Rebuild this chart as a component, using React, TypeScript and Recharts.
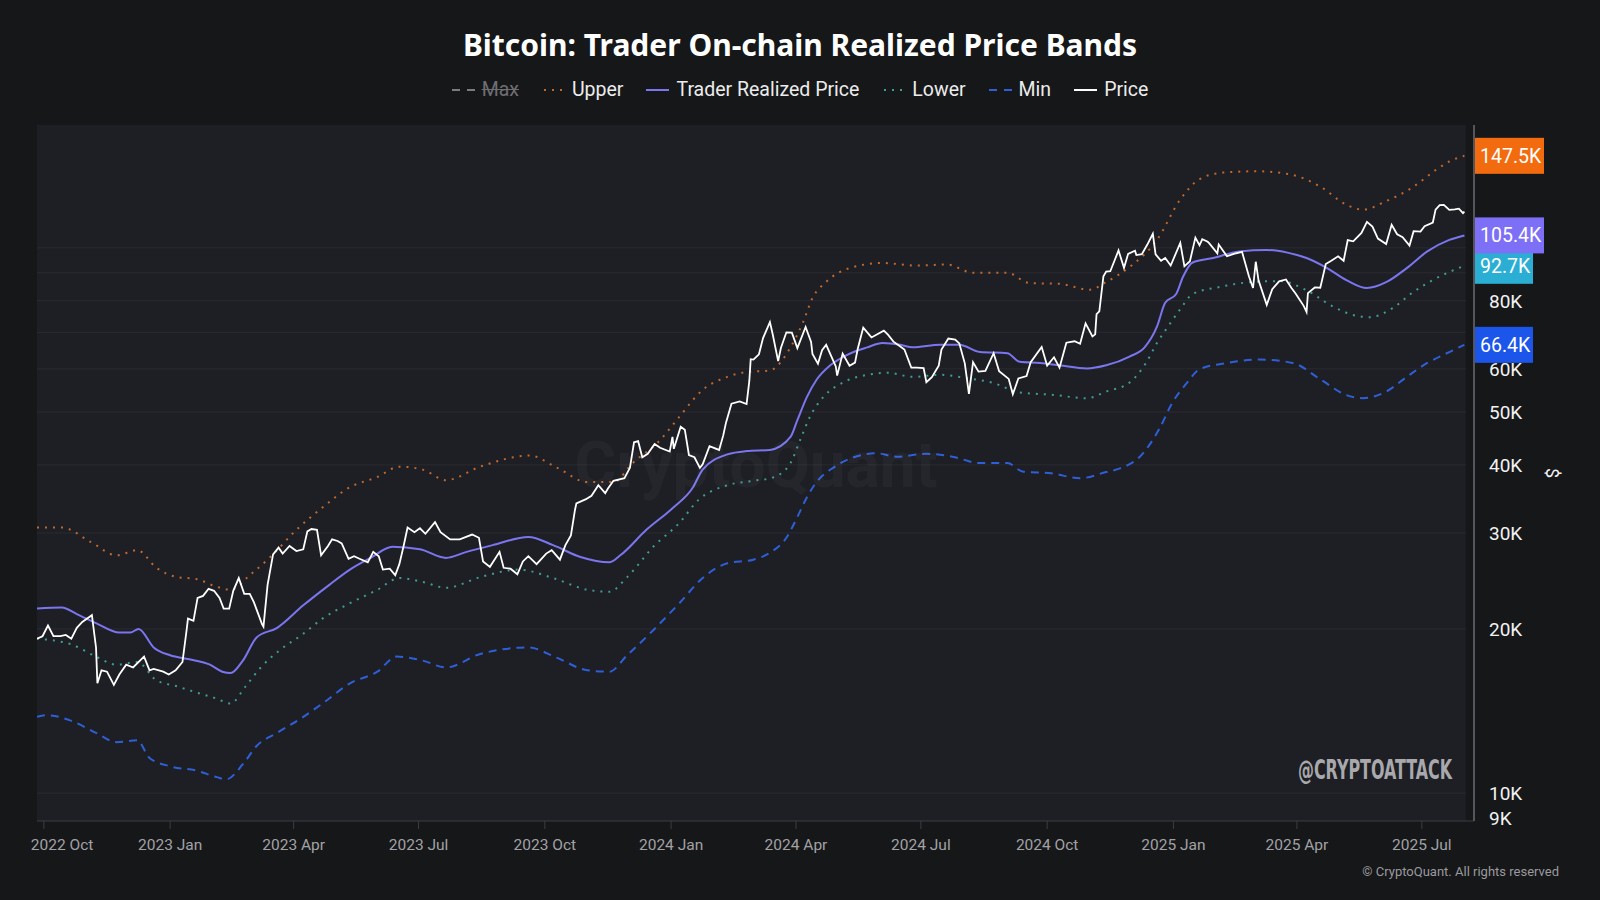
import React from 'react';
import { ComposedChart, Line, XAxis, YAxis, CartesianGrid, Legend, ReferenceArea, ReferenceLine } from 'recharts';

type Pt = [string, number];

// values in thousands of USD
const upperBand: Pt[] = [
  ['2022-09-26', 30.7], ['2022-10-14', 30.7], ['2022-11-04', 28.9], ['2022-11-23', 27.3], ['2022-12-08', 27.9],
  ['2022-12-22', 25.9], ['2023-01-06', 24.9], ['2023-01-20', 24.7], ['2023-02-04', 23.9], ['2023-02-14', 23.6],
  ['2023-02-28', 25.1], ['2023-03-15', 27.1], ['2023-04-03', 30.4], ['2023-04-22', 33.4], ['2023-05-12', 36.4],
  ['2023-06-01', 38.0], ['2023-06-17', 39.7], ['2023-07-04', 39.2], ['2023-07-21', 37.5], ['2023-08-15', 39.7],
  ['2023-09-20', 41.6], ['2023-10-10', 39.5], ['2023-11-01', 37.2], ['2023-11-20', 37.2], ['2023-12-04', 40.3],
  ['2023-12-24', 44.4], ['2024-01-07', 49.0], ['2024-01-24', 54.9], ['2024-02-11', 58.0], ['2024-02-25', 59.2],
  ['2024-03-13', 59.6], ['2024-03-28', 65.7], ['2024-04-06', 72.9], ['2024-04-13', 80.9], ['2024-04-23', 86.6],
  ['2024-05-10', 91.8], ['2024-06-03', 93.8], ['2024-06-28', 92.8], ['2024-07-20', 93.2], ['2024-08-08', 90.0],
  ['2024-09-02', 90.0], ['2024-09-18', 86.2], ['2024-10-10', 85.9], ['2024-11-01', 83.8], ['2024-11-13', 86.6],
  ['2024-11-30', 92.2], ['2024-12-20', 103.4], ['2025-01-06', 122.7], ['2025-01-20', 133.6], ['2025-02-06', 137.4],
  ['2025-03-03', 138.2], ['2025-03-29', 136.0], ['2025-04-18', 129.5], ['2025-05-07', 120.0], ['2025-05-19', 117.5],
  ['2025-06-05', 121.8], ['2025-06-24', 129.0], ['2025-07-12', 139.4], ['2025-07-21', 144.0], ['2025-08-01', 147.5],
];

const traderRealized: Pt[] = [
  ['2022-09-26', 21.8], ['2022-10-14', 21.9], ['2022-10-25', 21.3], ['2022-11-08', 20.5], ['2022-11-25', 19.7],
  ['2022-12-03', 19.7], ['2022-12-09', 20.0], ['2022-12-20', 18.5], ['2023-01-01', 17.9], ['2023-01-15', 17.6],
  ['2023-01-30', 17.2], ['2023-02-08', 16.7], ['2023-02-14', 16.6], ['2023-02-23', 17.5], ['2023-03-05', 19.3],
  ['2023-03-20', 20.1], ['2023-04-08', 22.1], ['2023-04-27', 24.1], ['2023-05-12', 25.7], ['2023-05-27', 27.0],
  ['2023-06-12', 28.3], ['2023-07-02', 28.0], ['2023-07-21', 27.0], ['2023-08-05', 27.7], ['2023-08-24', 28.5],
  ['2023-09-19', 29.5], ['2023-10-07', 28.5], ['2023-10-27', 27.1], ['2023-11-17', 26.5], ['2023-11-25', 27.3],
  ['2023-12-14', 30.4], ['2024-01-02', 33.3], ['2024-01-17', 36.4], ['2024-01-24', 39.2], ['2024-02-11', 41.8],
  ['2024-02-25', 42.4], ['2024-03-13', 42.6], ['2024-03-28', 45.0], ['2024-04-02', 48.3], ['2024-04-09', 53.3],
  ['2024-04-16', 57.3], ['2024-04-26', 60.9], ['2024-05-08', 63.6], ['2024-05-23', 65.7], ['2024-06-03', 66.9],
  ['2024-06-16', 66.4], ['2024-06-25', 65.7], ['2024-07-15', 66.4], ['2024-07-29', 66.4], ['2024-08-13', 64.4],
  ['2024-09-02', 64.1], ['2024-09-11', 61.8], ['2024-09-26', 61.5], ['2024-10-10', 60.9], ['2024-10-30', 60.1],
  ['2024-11-13', 60.9], ['2024-11-30', 63.2], ['2024-12-11', 65.7], ['2024-12-20', 71.7], ['2024-12-26', 79.3],
  ['2025-01-03', 82.3], ['2025-01-08', 88.5], ['2025-01-15', 94.0], ['2025-01-30', 95.8], ['2025-02-18', 98.5],
  ['2025-03-10', 99.1], ['2025-03-25', 98.0], ['2025-04-08', 95.8], ['2025-04-23', 91.8], ['2025-05-07', 87.3],
  ['2025-05-22', 84.4], ['2025-06-05', 86.5], ['2025-06-20', 91.8], ['2025-07-05', 98.5], ['2025-07-21', 103.4],
  ['2025-08-01', 105.4],
];

const lowerBand: Pt[] = [
  ['2022-09-26', 19.2], ['2022-10-22', 18.7], ['2022-11-08', 17.8], ['2022-11-23', 17.2], ['2022-12-08', 17.4],
  ['2022-12-22', 16.1], ['2023-01-06', 15.7], ['2023-01-20', 15.3], ['2023-02-04', 14.9], ['2023-02-14', 14.6],
  ['2023-02-25', 15.7], ['2023-03-08', 17.0], ['2023-03-22', 18.3], ['2023-04-08', 19.6], ['2023-04-22', 20.9],
  ['2023-05-12', 22.3], ['2023-06-01', 23.6], ['2023-06-17', 24.8], ['2023-07-04', 24.4], ['2023-07-21', 23.8],
  ['2023-08-15', 24.9], ['2023-09-12', 25.7], ['2023-10-07', 24.8], ['2023-11-01', 23.6], ['2023-11-17', 23.4],
  ['2023-11-30', 24.9], ['2023-12-19', 28.3], ['2024-01-07', 31.3], ['2024-01-21', 34.5], ['2024-02-11', 36.7],
  ['2024-03-01', 37.4], ['2024-03-15', 37.9], ['2024-03-28', 40.3], ['2024-04-04', 44.4], ['2024-04-11', 48.9],
  ['2024-04-21', 53.3], ['2024-05-05', 56.6], ['2024-05-23', 58.5], ['2024-06-07', 59.0], ['2024-06-25', 58.0],
  ['2024-07-15', 58.5], ['2024-08-03', 57.7], ['2024-08-22', 56.6], ['2024-09-11', 54.3], ['2024-10-04', 53.8],
  ['2024-10-30', 53.0], ['2024-11-13', 54.5], ['2024-11-30', 56.6], ['2024-12-12', 61.5], ['2024-12-20', 66.9],
  ['2024-12-28', 71.7], ['2025-01-06', 77.2], ['2025-01-15', 82.3], ['2025-02-04', 84.8], ['2025-02-28', 86.6],
  ['2025-03-20', 86.9], ['2025-04-08', 83.6], ['2025-04-27', 78.1], ['2025-05-15', 75.0], ['2025-05-24', 74.6],
  ['2025-06-10', 77.6], ['2025-06-24', 82.7], ['2025-07-09', 87.3], ['2025-07-21', 90.3], ['2025-08-01', 92.7],
];

const minBand: Pt[] = [
  ['2022-09-26', 13.8], ['2022-10-03', 13.9], ['2022-10-20', 13.6], ['2022-11-08', 12.9], ['2022-11-23', 12.4],
  ['2022-12-08', 12.5], ['2022-12-17', 11.6], ['2023-01-01', 11.2], ['2023-01-20', 11.0], ['2023-02-04', 10.7],
  ['2023-02-11', 10.6], ['2023-02-23', 11.3], ['2023-03-05', 12.2], ['2023-03-20', 12.9], ['2023-04-08', 13.8],
  ['2023-04-22', 14.6], ['2023-05-12', 15.9], ['2023-06-01', 16.7], ['2023-06-15', 17.8], ['2023-07-04', 17.5],
  ['2023-07-21', 17.0], ['2023-08-15', 18.0], ['2023-09-19', 18.5], ['2023-10-10', 17.7], ['2023-11-01', 16.8],
  ['2023-11-17', 16.7], ['2023-11-30', 17.9], ['2023-12-19', 19.9], ['2024-01-07', 22.3], ['2024-01-24', 24.8],
  ['2024-02-11', 26.4], ['2024-03-01', 26.8], ['2024-03-13', 27.6], ['2024-03-25', 29.4], ['2024-04-02', 32.1],
  ['2024-04-09', 34.9], ['2024-04-16', 37.2], ['2024-04-28', 39.5], ['2024-05-12', 41.2], ['2024-05-30', 42.0],
  ['2024-06-13', 41.4], ['2024-07-05', 41.9], ['2024-07-24', 41.4], ['2024-08-13', 40.3], ['2024-09-02', 40.3],
  ['2024-09-13', 38.9], ['2024-10-04', 38.6], ['2024-10-25', 37.8], ['2024-11-13', 38.8], ['2024-11-23', 39.4],
  ['2024-12-08', 41.5], ['2024-12-22', 46.7], ['2024-12-31', 51.9], ['2025-01-11', 56.6], ['2025-01-20', 59.9],
  ['2025-02-09', 61.5], ['2025-03-05', 62.4], ['2025-03-29', 61.5], ['2025-04-18', 57.4], ['2025-05-07', 53.7],
  ['2025-05-19', 53.0], ['2025-06-05', 54.5], ['2025-06-20', 58.0], ['2025-07-05', 61.5], ['2025-07-21', 64.4],
  ['2025-08-01', 66.4],
];

const btcPrice: Pt[] = [
  ['2022-09-26', 19.2], ['2022-09-30', 19.4], ['2022-10-04', 20.3], ['2022-10-08', 19.4], ['2022-10-13', 19.4],
  ['2022-10-17', 19.5], ['2022-10-21', 19.2], ['2022-10-25', 20.1], ['2022-10-29', 20.6], ['2022-11-05', 21.2],
  ['2022-11-08', 18.5], ['2022-11-09', 15.9], ['2022-11-12', 16.8], ['2022-11-16', 16.7], ['2022-11-21', 15.8],
  ['2022-11-25', 16.5], ['2022-11-30', 17.2], ['2022-12-05', 17.0], ['2022-12-13', 17.8], ['2022-12-17', 16.8],
  ['2022-12-20', 16.9], ['2022-12-27', 16.7], ['2022-12-31', 16.5], ['2023-01-05', 16.8], ['2023-01-10', 17.4],
  ['2023-01-13', 19.9], ['2023-01-14', 20.9], ['2023-01-18', 20.7], ['2023-01-21', 22.8], ['2023-01-25', 23.0],
  ['2023-01-29', 23.7], ['2023-02-02', 23.5], ['2023-02-06', 22.8], ['2023-02-09', 21.8], ['2023-02-13', 21.8],
  ['2023-02-16', 23.5], ['2023-02-20', 24.8], ['2023-02-24', 23.2], ['2023-02-28', 23.2], ['2023-03-03', 22.4],
  ['2023-03-09', 20.4], ['2023-03-10', 20.2], ['2023-03-13', 24.1], ['2023-03-17', 27.4], ['2023-03-21', 28.2],
  ['2023-03-24', 27.5], ['2023-03-29', 28.4], ['2023-04-03', 27.8], ['2023-04-08', 28.0], ['2023-04-11', 30.2],
  ['2023-04-14', 30.5], ['2023-04-18', 30.4], ['2023-04-21', 27.3], ['2023-04-26', 28.4], ['2023-04-29', 29.2],
  ['2023-05-03', 29.0], ['2023-05-06', 28.7], ['2023-05-11', 26.9], ['2023-05-15', 27.2], ['2023-05-19', 26.9],
  ['2023-05-25', 26.5], ['2023-05-29', 27.7], ['2023-06-02', 27.2], ['2023-06-05', 25.7], ['2023-06-10', 25.8],
  ['2023-06-14', 25.1], ['2023-06-17', 26.3], ['2023-06-20', 28.3], ['2023-06-23', 30.7], ['2023-06-28', 30.1],
  ['2023-07-02', 30.6], ['2023-07-06', 29.9], ['2023-07-13', 31.4], ['2023-07-17', 30.1], ['2023-07-24', 29.2],
  ['2023-07-31', 29.2], ['2023-08-09', 29.8], ['2023-08-14', 29.4], ['2023-08-17', 26.6], ['2023-08-22', 26.0],
  ['2023-08-29', 27.7], ['2023-09-01', 25.9], ['2023-09-06', 25.8], ['2023-09-11', 25.2], ['2023-09-15', 26.6],
  ['2023-09-19', 27.2], ['2023-09-25', 26.3], ['2023-10-02', 27.5], ['2023-10-06', 27.9], ['2023-10-12', 26.8],
  ['2023-10-16', 28.5], ['2023-10-20', 29.7], ['2023-10-23', 33.1], ['2023-10-24', 34.0], ['2023-10-31', 34.6],
  ['2023-11-04', 35.1], ['2023-11-09', 36.7], ['2023-11-14', 35.5], ['2023-11-16', 36.2], ['2023-11-20', 37.4],
  ['2023-11-28', 37.8], ['2023-12-02', 39.5], ['2023-12-05', 44.0], ['2023-12-08', 44.2], ['2023-12-11', 41.3],
  ['2023-12-15', 41.9], ['2023-12-20', 43.7], ['2023-12-24', 43.0], ['2023-12-31', 42.3], ['2024-01-02', 45.0],
  ['2024-01-03', 42.8], ['2024-01-08', 47.0], ['2024-01-11', 46.4], ['2024-01-14', 41.7], ['2024-01-18', 41.3],
  ['2024-01-22', 39.5], ['2024-01-24', 40.1], ['2024-01-29', 43.3], ['2024-02-05', 42.6], ['2024-02-08', 45.3],
  ['2024-02-10', 47.8], ['2024-02-14', 51.8], ['2024-02-20', 52.3], ['2024-02-25', 51.7], ['2024-02-27', 57.0],
  ['2024-02-28', 62.5], ['2024-03-01', 62.4], ['2024-03-05', 63.8], ['2024-03-08', 68.3], ['2024-03-13', 73.1],
  ['2024-03-15', 69.5], ['2024-03-19', 62.0], ['2024-03-21', 65.5], ['2024-03-25', 70.0], ['2024-03-29', 69.9],
  ['2024-04-02', 65.5], ['2024-04-08', 71.6], ['2024-04-12', 67.2], ['2024-04-13', 63.9], ['2024-04-17', 61.3],
  ['2024-04-20', 64.9], ['2024-04-23', 66.4], ['2024-04-30', 60.6], ['2024-05-01', 58.3], ['2024-05-05', 64.0],
  ['2024-05-10', 60.8], ['2024-05-14', 61.6], ['2024-05-16', 65.3], ['2024-05-20', 71.4], ['2024-05-26', 68.5],
  ['2024-06-04', 70.5], ['2024-06-07', 69.3], ['2024-06-11', 67.3], ['2024-06-15', 66.2], ['2024-06-19', 65.1],
  ['2024-06-24', 60.3], ['2024-06-28', 60.3], ['2024-07-03', 60.2], ['2024-07-05', 56.7], ['2024-07-09', 57.9],
  ['2024-07-14', 60.8], ['2024-07-16', 65.1], ['2024-07-21', 68.2], ['2024-07-26', 67.9], ['2024-07-29', 66.8],
  ['2024-08-02', 61.4], ['2024-08-05', 54.0], ['2024-08-08', 61.7], ['2024-08-12', 59.3], ['2024-08-17', 59.5],
  ['2024-08-23', 64.1], ['2024-08-27', 59.4], ['2024-09-03', 57.5], ['2024-09-06', 53.9], ['2024-09-10', 57.6],
  ['2024-09-16', 58.2], ['2024-09-19', 61.7], ['2024-09-27', 65.8], ['2024-10-01', 60.8], ['2024-10-06', 63.0],
  ['2024-10-10', 60.3], ['2024-10-15', 67.0], ['2024-10-21', 67.4], ['2024-10-25', 66.7], ['2024-10-29', 72.7],
  ['2024-11-03', 68.8], ['2024-11-05', 69.4], ['2024-11-06', 75.6], ['2024-11-08', 76.5], ['2024-11-11', 88.7],
  ['2024-11-13', 90.5], ['2024-11-16', 90.6], ['2024-11-22', 98.9], ['2024-11-26', 91.9], ['2024-11-29', 97.5],
  ['2024-12-04', 98.8], ['2024-12-05', 97.0], ['2024-12-09', 97.4], ['2024-12-13', 101.4], ['2024-12-17', 106.1],
  ['2024-12-19', 97.3], ['2024-12-23', 94.7], ['2024-12-26', 95.8], ['2024-12-30', 92.8], ['2025-01-06', 102.1],
  ['2025-01-09', 92.5], ['2025-01-13', 94.5], ['2025-01-17', 104.4], ['2025-01-20', 101.1], ['2025-01-22', 103.7],
  ['2025-01-26', 102.6], ['2025-01-27', 102.0], ['2025-02-02', 97.7], ['2025-02-03', 101.4], ['2025-02-09', 96.5],
  ['2025-02-14', 97.5], ['2025-02-20', 98.3], ['2025-02-25', 88.7], ['2025-02-28', 84.4], ['2025-03-02', 94.3],
  ['2025-03-04', 87.2], ['2025-03-10', 78.6], ['2025-03-14', 84.0], ['2025-03-19', 86.8], ['2025-03-24', 87.5],
  ['2025-03-28', 84.4], ['2025-03-31', 82.5], ['2025-04-06', 78.2], ['2025-04-08', 76.3], ['2025-04-09', 82.6],
  ['2025-04-14', 84.6], ['2025-04-18', 84.5], ['2025-04-22', 93.4], ['2025-04-26', 94.7], ['2025-05-01', 96.5],
  ['2025-05-05', 94.7], ['2025-05-08', 103.3], ['2025-05-12', 102.8], ['2025-05-18', 106.5], ['2025-05-22', 111.6],
  ['2025-05-26', 109.4], ['2025-05-30', 104.0], ['2025-06-05', 101.6], ['2025-06-09', 110.2], ['2025-06-13', 105.9],
  ['2025-06-17', 104.6], ['2025-06-22', 101.0], ['2025-06-25', 107.3], ['2025-06-30', 107.1], ['2025-07-03', 109.6],
  ['2025-07-09', 111.3], ['2025-07-11', 117.5], ['2025-07-14', 119.8], ['2025-07-17', 119.9], ['2025-07-21', 117.4],
  ['2025-07-25', 117.6], ['2025-07-28', 118.0], ['2025-07-31', 115.8], ['2025-08-01', 116.5],
];

const xTickDates = [
  '2022-10-01', '2023-01-01', '2023-04-01', '2023-07-01', '2023-10-01', '2024-01-01',
  '2024-04-01', '2024-07-01', '2024-10-01', '2025-01-01', '2025-04-01', '2025-07-01',
];
const xTickLabels = [
  '2022 Oct', '2023 Jan', '2023 Apr', '2023 Jul', '2023 Oct', '2024 Jan',
  '2024 Apr', '2024 Jul', '2024 Oct', '2025 Jan', '2025 Apr', '2025 Jul',
];
const yTicks = [9000, 10000, 20000, 30000, 40000, 50000, 60000, 70000, 80000, 90000, 100000];
const yGrid = [10000, 20000, 30000, 40000, 50000, 60000, 70000, 80000, 90000, 100000];
const yHiddenLabels = [70000, 90000, 100000];

const BG = '#161719';
const PANEL = '#1e1f24';
const GRID = '#2a2b31';
const C_UPPER = '#c0692e';
const C_TRP = '#7b75ef';
const C_LOWER = '#3f9d96';
const C_MIN = '#2f5fd8';
const C_PRICE = '#ffffff';

const toT = (d: string) => Date.parse(d + 'T00:00:00Z');
const toSeries = (pts: Pt[]) => pts.map(([d, v]) => ({ t: toT(d), v: v * 1000 }));

const upperData = toSeries(upperBand);
const trpData = toSeries(traderRealized);
const lowerData = toSeries(lowerBand);
const minData = toSeries(minBand);
const priceData = toSeries(btcPrice);

const X_START = toT('2022-09-26');
const X_PANEL_END = toT('2025-08-02');
const X_END = toT('2025-08-08');

const last = (s: { v: number }[]) => s[s.length - 1].v;

const legendItems = [
  { name: 'Max', color: '#7c7c80', icon: 'dash', off: true },
  { name: 'Upper', color: C_UPPER, icon: 'dot' },
  { name: 'Trader Realized Price', color: C_TRP, icon: 'solid' },
  { name: 'Lower', color: C_LOWER, icon: 'dot' },
  { name: 'Min', color: C_MIN, icon: 'dash' },
  { name: 'Price', color: C_PRICE, icon: 'solid' },
];

const renderLegend = () => (
  <div style={{ display: 'flex', justifyContent: 'center', alignItems: 'center', gap: 23, fontSize: 19.5 }}>
    {legendItems.map((it) => (
      <div key={it.name} style={{ display: 'flex', alignItems: 'center' }}>
        <svg width={23} height={10} style={{ marginRight: 7 }}>
          <line
            x1={it.icon === 'dot' ? 2 : 0}
            x2={23}
            y1={5}
            y2={5}
            stroke={it.color}
            strokeWidth={2}
            strokeDasharray={it.icon === 'dash' ? '8 7' : it.icon === 'dot' ? '2 6' : undefined}
          />
        </svg>
        <span style={{ color: it.off ? '#6e6e72' : '#ececec', textDecoration: it.off ? 'line-through' : 'none' }}>
          {it.name}
        </span>
      </div>
    ))}
  </div>
);

const XTick = (props: any) => {
  const { x, y, payload } = props;
  const i = xTickDates.findIndex((d) => toT(d) === payload.value);
  const first = i === 0;
  return (
    <text x={first ? x - 13 : x} y={y} dy="0.71em" textAnchor={first ? 'start' : 'middle'} fill="#a2a2a6" fontSize={15.5}>
      {xTickLabels[i]}
    </text>
  );
};

const YTick = (props: any) => {
  const { x, y, payload } = props;
  if (yHiddenLabels.includes(payload.value)) return <g />;
  return (
    <text x={x} y={y} dy="0.36em" textAnchor="start" fill="#f2f2f2" fontSize={19}>
      {`${payload.value / 1000}K`}
    </text>
  );
};

const badge = (value: number, color: string) => (props: any) => {
  const { viewBox } = props;
  const text = `${(value / 1000).toFixed(1)}K`;
  const w = text.length * 11 + 4;
  const h = 36;
  const x0 = viewBox.x + viewBox.width;
  return (
    <g>
      <rect x={x0} y={viewBox.y - h / 2} width={w} height={h} fill={color} />
      <text x={x0 + 6} y={viewBox.y} dy="0.36em" fill="#ffffff" fontSize={19.5}>
        {text}
      </text>
    </g>
  );
};

export default function App() {
  return (
    <div
      style={{
        position: 'fixed',
        left: 0,
        top: 0,
        width: 1600,
        height: 900,
        background: BG,
        fontFamily: 'Roboto, "Noto Sans", sans-serif',
        overflow: 'hidden',
      }}
    >
      <div
        style={{
          position: 'absolute',
          top: 25,
          left: 0,
          width: 1600,
          height: 40,
          lineHeight: '40px',
          textAlign: 'center',
          color: '#ffffff',
          fontFamily: '"Noto Sans", Roboto, sans-serif',
          fontWeight: 700,
          fontSize: 30,
        }}
      >
        Bitcoin: Trader On-chain Realized Price Bands
      </div>

      <ComposedChart width={1600} height={900} margin={{ top: 125, right: 0, left: 37, bottom: 39 }}>
        <CartesianGrid vertical={false} horizontalValues={yGrid} stroke={GRID} fill={PANEL} fillOpacity={1} />
        <ReferenceArea x1={X_PANEL_END} x2={X_END} fill={BG} fillOpacity={1} stroke="none" />
        <XAxis
          dataKey="t"
          type="number"
          domain={[X_START, X_END]}
          allowDataOverflow
          ticks={xTickDates.map(toT)}
          interval={0}
          tick={<XTick />}
          height={40}
          tickSize={8}
          tickMargin={10}
          axisLine={{ stroke: '#3c3d43' }}
          tickLine={{ stroke: '#3c3d43' }}
        />
        <YAxis
          orientation="right"
          scale="log"
          domain={[8890, 168000]}
          allowDataOverflow
          ticks={yTicks}
          interval={0}
          tick={<YTick />}
          width={126}
          tickLine={false}
          tickMargin={9}
          axisLine={{ stroke: '#55565c', strokeWidth: 2 }}
          label={{ value: '$', angle: 90, position: 'center', dx: 15, fill: '#f2f2f2', fontSize: 18 }}
        />
        <Legend
          layout="horizontal"
          verticalAlign="middle"
          align="center"
          wrapperStyle={{ top: 78, left: 0, width: 1600 }}
          content={renderLegend}
        />
        <Line data={upperData} dataKey="v" type="monotone" stroke={C_UPPER} strokeWidth={2} strokeDasharray="2 6" dot={false} activeDot={false} isAnimationActive={false} />
        <Line data={lowerData} dataKey="v" type="monotone" stroke={C_LOWER} strokeWidth={2} strokeDasharray="2 6" dot={false} activeDot={false} isAnimationActive={false} />
        <Line data={minData} dataKey="v" type="monotone" stroke={C_MIN} strokeWidth={2} strokeDasharray="8 6" dot={false} activeDot={false} isAnimationActive={false} />
        <Line data={trpData} dataKey="v" type="monotone" stroke={C_TRP} strokeWidth={2} dot={false} activeDot={false} isAnimationActive={false} />
        <Line data={priceData} dataKey="v" type="linear" stroke={C_PRICE} strokeWidth={1.8} dot={false} activeDot={false} isAnimationActive={false} />
        <ReferenceLine y={last(minData)} stroke="none" label={badge(last(minData), '#1b55ea')} />
        <ReferenceLine y={last(lowerData)} stroke="none" label={badge(last(lowerData), '#2aaed3')} />
        <ReferenceLine y={last(trpData)} stroke="none" label={badge(last(trpData), '#7d70f7')} />
        <ReferenceLine y={last(upperData)} stroke="none" label={badge(last(upperData), '#f26b0e')} />
      </ComposedChart>

      <div
        style={{
          position: 'absolute',
          left: 566,
          top: 428,
          width: 380,
          textAlign: 'center',
          fontSize: 64,
          fontWeight: 700,
          color: 'rgba(255,255,255,0.035)',
          pointerEvents: 'none',
        }}
      >
        CryptoQuant
      </div>

      <svg style={{ position: 'absolute', left: 0, top: 0, pointerEvents: 'none' }} width={1600} height={900}>
        <text
          x={1298}
          y={779}
          textLength={154}
          lengthAdjust="spacingAndGlyphs"
          fontFamily='"DejaVu Sans Condensed", "Liberation Sans Narrow", sans-serif'
          fontWeight={700}
          fontSize={27}
          fill="#a9a9ad"
        >
          @CRYPTOATTACK
        </text>
      </svg>

      <div style={{ position: 'absolute', right: 41, top: 864, fontSize: 13, color: '#9a9a9e' }}>
        © CryptoQuant. All rights reserved
      </div>
    </div>
  );
}
